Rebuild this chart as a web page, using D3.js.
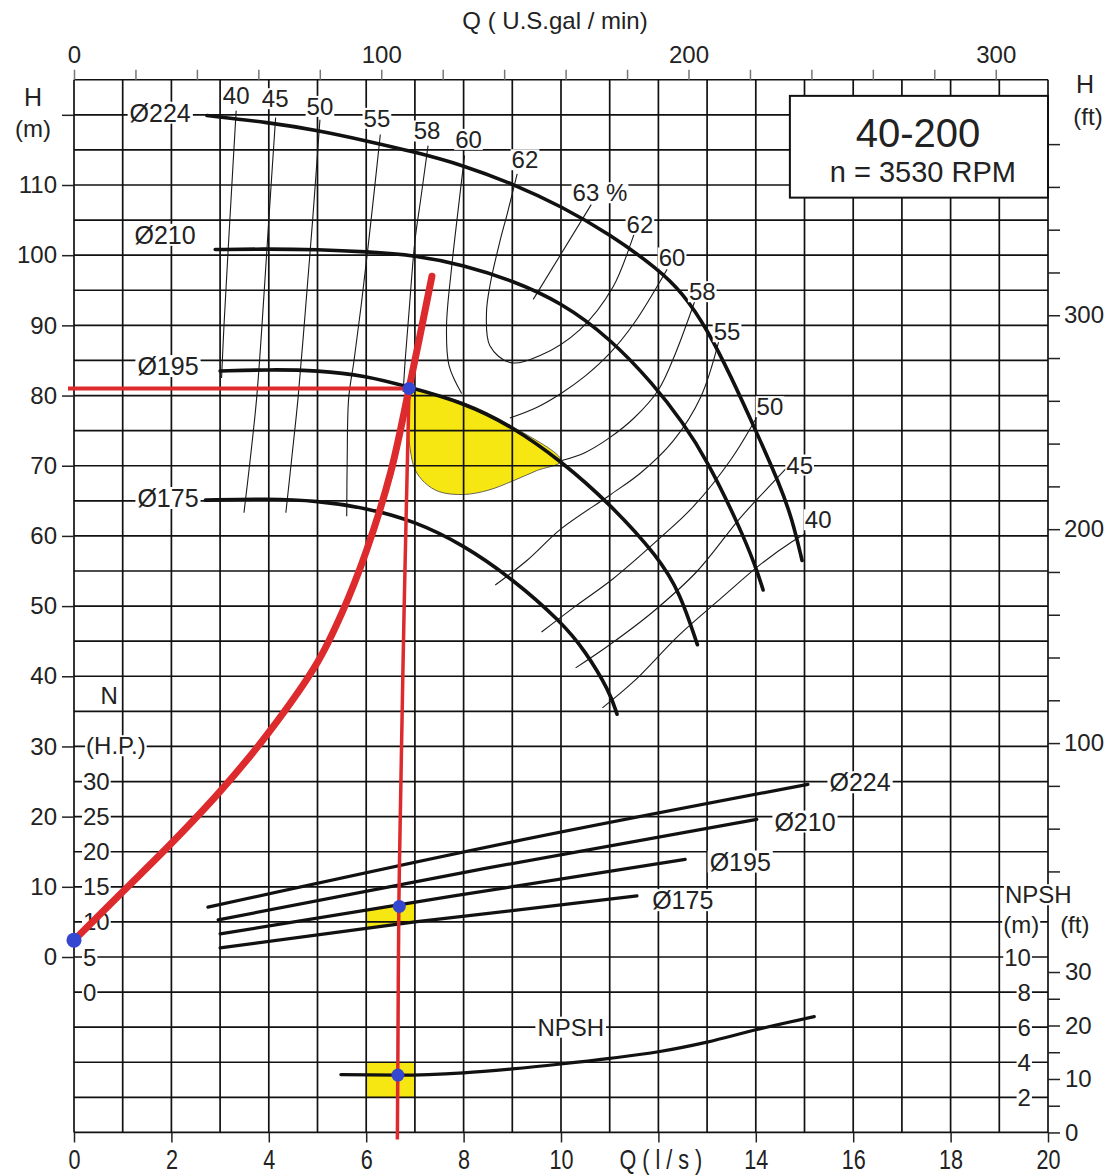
<!DOCTYPE html>
<html><head><meta charset="utf-8">
<script src="https://cdn.jsdelivr.net/npm/d3@7"></script>
<style>
html,body{margin:0;padding:0;background:#fff;}
svg{display:block;font-family:"Liberation Sans",Arial,sans-serif;}
</style></head><body>
<svg id="chart" width="1120" height="1176"></svg>
<script>
// ---------- DATA (Q in l/s, H in m, N in HP, NPSH in m) ----------
const headD224 = [[2.73,119.9],[4,118.9],[5,117.8],[6,116.3],[7,114.7],[8,112.8],[9,110.2],[10,107],[11,103.0],[12,98.0],[12.5,94.6],[13,89.5],[13.5,82.6],[14,75],[14.5,67.2],[14.75,62.3],[14.95,56.5]];
const headD210 = [[2.9,100.8],[4,100.9],[5,100.8],[6,100.5],[7,100],[8,98.6],[9,96.4],[10,93.3],[11,88.2],[11.9,81.6],[12.5,76.2],[13,70.8],[13.66,61.4],[14,55.6],[14.15,52.3]];
const headD195 = [[3,83.5],[4,83.7],[5,83.6],[6,82.8],[6.88,81.2],[8,79.0],[9,75.6],[10,70.7],[11,64.6],[12,57.0],[12.45,51.8],[12.8,44.5]];
const headD175 = [[2.7,65.1],[4,65.3],[5,65],[6,64],[7,62.1],[8,58.7],[9,53.9],[10,47.8],[10.5,43.6],[11,37.8],[11.15,34.6]];
const headLabels = [["Ø224",1.77,120.3],["Ø210",1.87,102.9],["Ø195",1.93,84.2],["Ø175",1.93,65.4]];

const eff40L = [[3.33,120.6],[3.2,105],[3.08,90],[3.03,82.5]];
const eff45L = [[4.14,119.6],[4.0,105],[3.86,90],[3.75,79.6],[3.62,71],[3.49,63.3]];
const eff50L = [[5.05,119.3],[4.9,105],[4.75,92],[4.6,79.6],[4.47,71],[4.35,63.3]];
const eff55L = [[6.29,117.2],[6.1,105],[5.9,93],[5.75,85],[5.64,79.6],[5.61,71],[5.6,62.8]];
const eff58L = [[7.27,115.6],[7.12,108],[7.0,102],[6.88,92],[6.8,85],[6.76,80.5]];
const eff60L = [[8.02,114.2],[7.88,106],[7.75,98],[7.65,90],[7.7,84.3],[7.96,80.3]];
const eff62Loop = [[9.1,111.6],[8.9,106],[8.75,102.1],[8.55,96],[8.47,91.8],[8.54,87.1],[8.95,84.7],[9.57,85.7],[10.39,89.4],[11.07,95.5],[11.45,102],[11.5,103]];
const eff63 = [[10.62,107.2],[9.43,93.7]];
const eff60R = [[8.95,76.8],[9.5,78.3],[10,80.3],[10.5,82.8],[11,86],[11.5,90.3],[12.18,98]];
const eff58R = [[10,70.7],[10.5,71.9],[11,74],[11.5,76.8],[12,80.8],[12.35,86],[12.75,93.5]];
const eff55R = [[8.65,53],[9.3,56.5],[10,61],[11,65.8],[11.64,69],[12.3,73.5],[12.87,79.8],[13.25,88]];
const eff50R = [[9.6,46.3],[10.3,50],[11.07,53.9],[12,59.5],[12.72,64.2],[13.5,71],[14.05,77.3]];
const eff45R = [[10.3,41.2],[11,44.5],[11.89,49.2],[12.8,55],[13.66,62.4],[14.2,66.5],[14.62,69.6]];
const eff40R = [[10.85,35.5],[11.5,39.3],[12.43,45.9],[13.3,51.2],[14.07,55.8],[14.75,59.2],[15.02,60.3]];
const effLabels = [["40",3.33,122.8],["45",4.13,122.3],["50",5.05,121.2],["55",6.22,119.5],["58",7.25,117.7],["60",8.1,116.5],["62",9.26,113.6],["63 %",10.8,108.9],["62",11.62,104.4],["60",12.28,99.6],["58",12.9,94.8],["55",13.41,89.1],["50",14.29,78.4],["45",14.9,70.1],["40",15.28,62.3]];

const powerD224 = [[2.75,12.1],[9,21.4],[15.07,29.6]];
const powerD210 = [[2.96,10.3],[8.5,17.7],[14.02,24.6]];
const powerD195 = [[3,8.3],[7.8,13.7],[12.55,18.9]];
const powerD175 = [[3,6.3],[7,10.0],[11.56,13.7]];
const powerLabels = [["Ø224",16.14,29.9],["Ø210",15.01,24.3],["Ø195",13.68,18.6],["Ø175",12.5,13.1]];

const npshCurve = [[5.48,3.3],[6.65,3.27],[8,3.4],[9,3.62],[10,3.9],[11,4.22],[12,4.6],[13,5.15],[14,5.85],[15.2,6.6]];

const systemCurve = [[0,2.4],[1,9.3],[2,16.2],[3,23.6],[4,32],[5,42],[5.5,49],[6,57.8],[6.5,69],[6.88,81],[7.35,97]];
const dutyQ = 6.88, dutyH = 81;
const dutyDrop = [[6.88,81],[6.78,50],[6.7,20],[6.67,7],[6.65,-15],[6.64,-26]];
const dutyPowerQ = 6.68, dutyPowerN = 12.2;
const dutyNpshQ = 6.65, dutyNpsh = 3.27;
const shutoffH = 2.4;

const yellowTop = [[6.85,81.2],[8,79.0],[9,75.6],[10,70.7]];
const yellowBottom = [[9.5,69.3],[9,67.8],[8.5,66.5],[8,65.9],[7.5,66.3],[7.2,67.6],[7,69.5],[6.9,72.5],[6.85,77]];
const yellowQRange = [6,7];
const yellowNpshRange = [2,4];

const qTicks = [0,2,4,6,8,10,12,14,16,18,20];
const hTicks = [0,10,20,30,40,50,60,70,80,90,100,110,120];
const gpmTicks = d3.range(0,301,20);
const ftTicks = d3.range(40,381,20);
const nTicks = [0,5,10,15,20,25,30];
const npshTicks = [2,4,6,8,10];
const npshFtTicks = [0,5,10,15,20,25,30];
const titleText = "40-200", speedText = "n = 3530 RPM";

// ---------- SCALES ----------
const svg = d3.select('#chart');
const x = d3.scaleLinear().domain([0,20]).range([74,1048]);
const y = d3.scaleLinear().domain([0,110]).range([957,185]);
const yN = d3.scaleLinear().domain([0,30]).range([y(-5), y(25)]);
const yNP = d3.scaleLinear().domain([0,10]).range([y(-25), y(0)]);
const FT = 0.3048;
const yFt = d3.scaleLinear().domain([0,100]).range([y(0), y(100*FT)]);
const yNPft = d3.scaleLinear().domain([0,10]).range([yNP(0), yNP(10*FT)]);
const xG = d3.scaleLinear().domain([0,100]).range([x(0), x(100*0.0630902)]);

const cr = d3.curveCatmullRom.alpha(0.5);
const lineH = d3.line().x(d=>x(d[0])).y(d=>y(d[1])).curve(cr);
const lineHm = d3.line().x(d=>x(d[0])).y(d=>y(d[1])).curve(d3.curveBasis);
const lineN = d3.line().x(d=>x(d[0])).y(d=>yN(d[1])).curve(d3.curveMonotoneX);
const lineNP = d3.line().x(d=>x(d[0])).y(d=>yNP(d[1])).curve(d3.curveMonotoneX);
const lineLin = d3.line().x(d=>x(d[0])).y(d=>y(d[1]));

function interp(arr, q){
  for(let i=0;i<arr.length-1;i++){
    const a=arr[i], b=arr[i+1];
    if(q>=a[0] && q<=b[0]) return a[1]+(b[1]-a[1])*(q-a[0])/(b[0]-a[0]);
  }
  return arr[arr.length-1][1];
}

// ---------- YELLOW AREAS ----------
const gY = svg.append('g');
gY.append('path').attr('d', lineH(yellowTop.concat(yellowBottom)) + 'Z')
  .attr('fill','#f6e612').attr('stroke','#444').attr('stroke-width',0.8);
const pPatch = [[yellowQRange[0], interp(powerD195,yellowQRange[0])],[yellowQRange[1], interp(powerD195,yellowQRange[1])],
                [yellowQRange[1], interp(powerD175,yellowQRange[1])],[yellowQRange[0], interp(powerD175,yellowQRange[0])]];
gY.append('path').attr('d', d3.line().x(d=>x(d[0])).y(d=>yN(d[1]))(pPatch)+'Z').attr('fill','#f6e612');
gY.append('rect').attr('x',x(yellowQRange[0])).attr('width',x(yellowQRange[1])-x(yellowQRange[0]))
  .attr('y',yNP(yellowNpshRange[1])).attr('height',yNP(yellowNpshRange[0])-yNP(yellowNpshRange[1])).attr('fill','#f6e612');

// ---------- GRID ----------
const gG = svg.append('g').attr('stroke','#111').attr('stroke-width',1.7);
d3.range(0,21,1).forEach(q=>gG.append('line').attr('x1',x(q)).attr('x2',x(q)).attr('y1',y(125)).attr('y2',y(-25)));
d3.range(-25,126,5).forEach(h=>gG.append('line').attr('x1',x(0)).attr('x2',x(20)).attr('y1',y(h)).attr('y2',y(h)));

// ---------- AXES ----------
function styleAxis(g, fs, fam){
  g.select('.domain').remove();
  g.selectAll('.tick line').attr('stroke','#222').attr('stroke-width',1.5);
  g.selectAll('.tick text').attr('fill','#222').style('font-size',fs+'px').style('font-family',fam||'"Liberation Sans",Arial,sans-serif');
}
const axL = svg.append('g').attr('transform',`translate(${x(0)},0)`)
  .call(d3.axisLeft(y).tickValues(hTicks).tickSize(12).tickPadding(5).tickFormat(d=>d===120?'':d));
styleAxis(axL,24);
const axT = svg.append('g').attr('transform',`translate(0,${y(125)})`)
  .call(d3.axisTop(xG).tickValues(gpmTicks).tickSize(10).tickPadding(7).tickFormat(d=>d%100===0?d:''));
styleAxis(axT,24); axT.selectAll('.tick line').attr('stroke','#777');
const axB = svg.append('g').attr('transform',`translate(0,${y(-25)})`)
  .call(d3.axisBottom(x).tickValues(qTicks).tickSize(10).tickPadding(7).tickFormat(d=>d===12?'':d));
styleAxis(axB,27);
axB.selectAll('.tick text').attr('transform','scale(0.8,1)');
const axR = svg.append('g').attr('transform',`translate(${x(20)},0)`)
  .call(d3.axisRight(yFt).tickValues(ftTicks).tickSize(12).tickPadding(4).tickFormat(d=>d%100===0?d:''));
styleAxis(axR,24);
const axR2 = svg.append('g').attr('transform',`translate(${x(20)},0)`)
  .call(d3.axisRight(yNPft).tickValues(npshFtTicks).tickSize(12).tickPadding(5).tickFormat(d=>d%10===0?d:''));
styleAxis(axR2,24);

// ---------- EFFICIENCY CONTOURS ----------
const gE = svg.append('g').attr('fill','none').attr('stroke','#1a1a1a').attr('stroke-width',1.1);
[eff40L,eff45L,eff50L,eff55L,eff58L,eff60L,eff62Loop,eff60R,eff58R,eff55R,eff50R,eff45R,eff40R]
  .forEach(c=>gE.append('path').attr('d',lineH(c)));
gE.append('path').attr('d',lineLin(eff63));

// ---------- HEAD CURVES ----------
const gH = svg.append('g').attr('fill','none').attr('stroke','#111').attr('stroke-width',3.6).attr('stroke-linecap','round');
[headD224,headD210,headD195,headD175].forEach(c=>gH.append('path').attr('d',lineHm(c)));

// ---------- POWER CURVES ----------
const gP = svg.append('g').attr('fill','none').attr('stroke','#111').attr('stroke-width',3.2).attr('stroke-linecap','round');
[powerD224,powerD210,powerD195,powerD175].forEach(c=>gP.append('path').attr('d',lineN(c)));

// ---------- NPSH CURVE ----------
svg.append('path').attr('d',lineNP(npshCurve)).attr('fill','none').attr('stroke','#111').attr('stroke-width',3.2).attr('stroke-linecap','round');

// ---------- TITLE BOX ----------
const boxQ=[14.7,20], boxH=[108.2,122.7];
svg.append('rect').attr('x',x(boxQ[0])).attr('y',y(boxH[1])).attr('width',x(boxQ[1])-x(boxQ[0])).attr('height',y(boxH[0])-y(boxH[1]))
  .attr('fill','#fff').attr('stroke','#111').attr('stroke-width',2);

// ---------- LABELS WITH WHITE BACKGROUND ----------
const gL = svg.append('g');
function label(txt, px, py, opt){
  opt = opt||{};
  const g = gL.append('g').attr('transform',`translate(${px},${py})`);
  const r = g.append('rect').attr('fill','#fff');
  const t = g.append('text').text(txt).attr('x',0).attr('y',0)
    .attr('text-anchor',opt.anchor||'middle').attr('dominant-baseline','central')
    .attr('fill',opt.color||'#222').style('font-size',(opt.size||24)+'px');
  if(opt.sx) t.attr('transform',`scale(${opt.sx},1)`);
  if(opt.bg!==false){
    const b = t.node().getBBox();
    const pad = opt.pad==null?2:opt.pad;
    r.attr('x',b.x-pad).attr('y',b.y+3).attr('width',b.width+2*pad).attr('height',b.height-6);
  } else r.remove();
  return t;
}
headLabels.forEach(d=>label(d[0],x(d[1]),y(d[2]),{size:25}));
effLabels.forEach(d=>label(d[0],x(d[1]),y(d[2]),{size:24,pad:1}));
powerLabels.forEach(d=>label(d[0],x(d[1]),yN(d[2]),{size:25}));
label('NPSH', x(10.2), yNP(6), {size:24});

// N (HP) axis labels inside plot
nTicks.forEach(v=>label(String(v), x(0)+9, yN(v), {anchor:'start',size:24,pad:1}));
label('N', x(0.72), y(37.3), {size:24,pad:1});
label('(H.P.)', x(0.86), y(30.1), {size:24,pad:1});
// NPSH (m) labels inside plot
npshTicks.forEach(v=>label(String(v), x(19.65), yNP(v), {anchor:'end',size:24,pad:1}));
label('NPSH', x(19.8), yNP(13.55), {size:24,pad:1});
label('(m)', x(19.45), yNP(11.85), {size:24,pad:1});
label('(ft)', x(20.55), yNP(11.85), {size:24,bg:false});

// Axis titles
label('Q ( U.S.gal / min)', 555, 20, {size:24,bg:false});
label('H', 33, 97, {size:25,bg:false});
label('(m)', 33, 128, {size:24,bg:false});
label('H', 1085, 84, {size:25,bg:false});
label('(ft)', 1088, 116, {size:24,bg:false});
label('Q ( l / s )', x(12.05), 1160, {size:27,bg:false,sx:0.8});

// title text
label(titleText, x(17.33), y(117.4), {size:40,bg:false});
label(speedText, x(17.43), y(111.9), {size:29,bg:false});

// ---------- DUTY POINT (RED / BLUE) ----------
const red = '#dd2a2c';
svg.append('line').attr('x1',x(0)-6).attr('x2',x(dutyQ)).attr('y1',y(dutyH)).attr('y2',y(dutyH))
  .attr('stroke',red).attr('stroke-width',4);
svg.append('path').attr('d',lineH(dutyDrop)).attr('fill','none').attr('stroke',red).attr('stroke-width',3.5);
svg.append('path').attr('d',lineH(systemCurve)).attr('fill','none').attr('stroke',red).attr('stroke-width',7).attr('stroke-linecap','round');
const blue = '#3546d0';
[[x(dutyQ),y(dutyH)],[x(0),y(shutoffH)],[x(dutyPowerQ),yN(dutyPowerN)],[x(dutyNpshQ),yNP(dutyNpsh)]]
  .forEach((p,i)=>svg.append('circle').attr('cx',p[0]).attr('cy',p[1]).attr('r',i===1?7.5:6.5).attr('fill',blue));
</script>
</body></html>
